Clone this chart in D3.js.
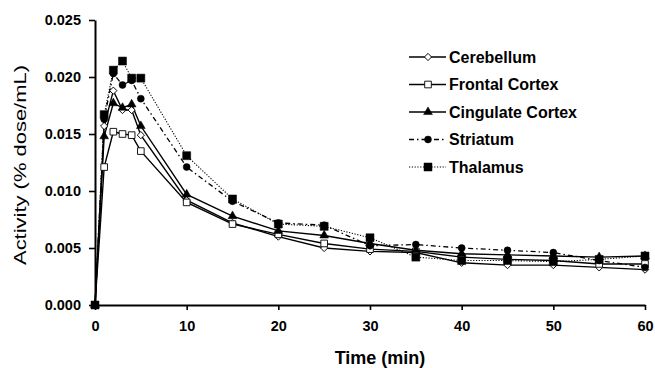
<!DOCTYPE html>
<html>
<head>
<meta charset="utf-8">
<script src="https://cdn.jsdelivr.net/npm/d3@7"></script>
<style>
  body { margin: 0; background: #fff; }
  text { font-family: "Liberation Sans", Arial, sans-serif; fill: #000; }
</style>
</head>
<body>
<svg id="chart" width="655" height="368"></svg>
<script>
// time points (min)
const times = [0, 1, 2, 3, 4, 5, 10, 15, 20, 25, 30, 35, 40, 45, 50, 55, 60];

// activity (% dose/mL)
const cerebellum = [0, 0.0157, 0.0188, 0.0171, 0.0171, 0.0149, 0.0092, 0.0072, 0.0060, 0.0050, 0.0047, 0.0046, 0.0037, 0.0035, 0.0035, 0.0033, 0.0031];
const frontalCortex = [0, 0.0121, 0.0152, 0.0150, 0.0149, 0.0135, 0.0090, 0.0071, 0.0062, 0.0054, 0.0049, 0.0047, 0.0042, 0.0040, 0.0039, 0.0036, 0.0036];
const cingulateCortex = [0, 0.0148, 0.0177, 0.0173, 0.0176, 0.0157, 0.0097, 0.0078, 0.0065, 0.0061, 0.0054, 0.0048, 0.0045, 0.0044, 0.0043, 0.0042, 0.0043];
const striatum = [0, 0.0163, 0.0203, 0.0193, 0.0197, 0.0181, 0.0121, 0.0091, 0.0072, 0.0070, 0.0052, 0.0053, 0.0050, 0.0048, 0.0046, 0.0039, 0.0033];
const thalamus = [0, 0.0167, 0.0206, 0.0214, 0.0199, 0.0199, 0.0131, 0.0093, 0.0071, 0.0069, 0.0059, 0.0042, 0.0039, 0.0039, 0.0038, 0.0040, 0.0043];

const seriesNames = ['Cerebellum', 'Frontal Cortex', 'Cingulate Cortex', 'Striatum', 'Thalamus'];
const xTicks = [0, 10, 20, 30, 40, 50, 60];
const yTicks = [0, 0.005, 0.010, 0.015, 0.020, 0.025];

const svg = d3.select('#chart');
const x = d3.scaleLinear().domain([0, 60]).range([95, 645]);
const y = d3.scaleLinear().domain([0, 0.025]).range([305, 20]);

// per-series look: dash + marker
const styles = {
    'Cerebellum': { dash: null, width: 1.4, sym: 'diamond', fill: '#fff', size: 26 },
    'Frontal Cortex': { dash: null, width: 1.4, sym: 'square', fill: '#fff', size: 44 },
    'Cingulate Cortex': { dash: null, width: 1.4, sym: 'triangle', fill: '#000', size: 34 },
    'Striatum': { dash: '5,3,1.5,3', width: 1.3, sym: 'circle', fill: '#000', size: 38 },
    'Thalamus': { dash: '1.2,1.6', width: 1.1, sym: 'bigsquare', fill: '#000', size: 64 }
};
const valuesByName = {
    'Cerebellum': cerebellum,
    'Frontal Cortex': frontalCortex,
    'Cingulate Cortex': cingulateCortex,
    'Striatum': striatum,
    'Thalamus': thalamus
};

function symbolPath(st) {
    const t = st.sym === 'circle' ? d3.symbolCircle
        : st.sym === 'triangle' ? d3.symbolTriangle
        : d3.symbolSquare;
    return d3.symbol().type(t).size(st.size)();
}
function drawMarker(g, st, cx, cy) {
    const rot = st.sym === 'diamond' ? ' rotate(45)' : '';
    g.append('path')
        .attr('d', symbolPath(st))
        .attr('transform', 'translate(' + cx + ',' + cy + ')' + rot)
        .attr('fill', st.fill)
        .attr('stroke', '#000')
        .attr('stroke-width', st.fill === '#fff' ? 0.9 : 0.5);
}

// axes
const xAxis = d3.axisBottom(x).tickValues(xTicks).tickSize(5).tickSizeOuter(0).tickFormat(d3.format('d'));
const yAxis = d3.axisLeft(y).tickValues(yTicks).tickSize(6).tickSizeOuter(0).tickFormat(d3.format('.3f'));

const gx = svg.append('g').attr('transform', 'translate(0,305)').call(xAxis);
const gy = svg.append('g').attr('transform', 'translate(95,0)').call(yAxis);
[gx, gy].forEach(g => {
    g.select('.domain').attr('stroke', '#000').attr('stroke-width', 2);
    g.selectAll('.tick line').attr('stroke', '#000').attr('stroke-width', 1.6);
    g.selectAll('.tick text').attr('font-size', 14.5).attr('font-weight', 'bold')
        .attr('font-family', '"Liberation Sans", Arial, sans-serif').attr('fill', '#000');
});
gx.selectAll('.tick text').attr('y', 11).attr('dy', '1.0em');
gy.selectAll('.tick text').attr('x', -14);

// series
const line = d3.line().x((d, i) => x(times[i])).y(d => y(d));
seriesNames.forEach(name => {
    const st = styles[name];
    const vals = valuesByName[name];
    svg.append('path')
        .datum(vals)
        .attr('d', line)
        .attr('fill', 'none')
        .attr('stroke', '#000')
        .attr('stroke-width', st.width)
        .attr('stroke-dasharray', st.dash);
});
seriesNames.forEach(name => {
    const st = styles[name];
    const g = svg.append('g');
    valuesByName[name].forEach((v, i) => drawMarker(g, st, x(times[i]), y(v)));
});

// legend
const legend = svg.append('g');
seriesNames.forEach((name, i) => {
    const st = styles[name];
    const ly = 57 + i * 27.5;
    legend.append('line')
        .attr('x1', 409).attr('x2', 446).attr('y1', ly).attr('y2', ly)
        .attr('stroke', '#000').attr('stroke-width', st.width)
        .attr('stroke-dasharray', st.dash);
    drawMarker(legend, st, 428, ly);
    legend.append('text')
        .attr('x', 449).attr('y', ly).attr('dy', '0.36em')
        .attr('font-size', 16).attr('font-weight', 'bold')
        .text(name);
});

// axis titles
svg.append('text')
    .attr('x', 380).attr('y', 364)
    .attr('text-anchor', 'middle')
    .attr('font-size', 18).attr('font-weight', 'bold')
    .text('Time (min)');
svg.append('text')
    .attr('transform', 'translate(26,165) rotate(-90)')
    .attr('text-anchor', 'middle')
    .attr('font-size', 17)
    .attr('textLength', 200).attr('lengthAdjust', 'spacingAndGlyphs')
    .text('Activity (% dose/mL)');
</script>
</body>
</html>
